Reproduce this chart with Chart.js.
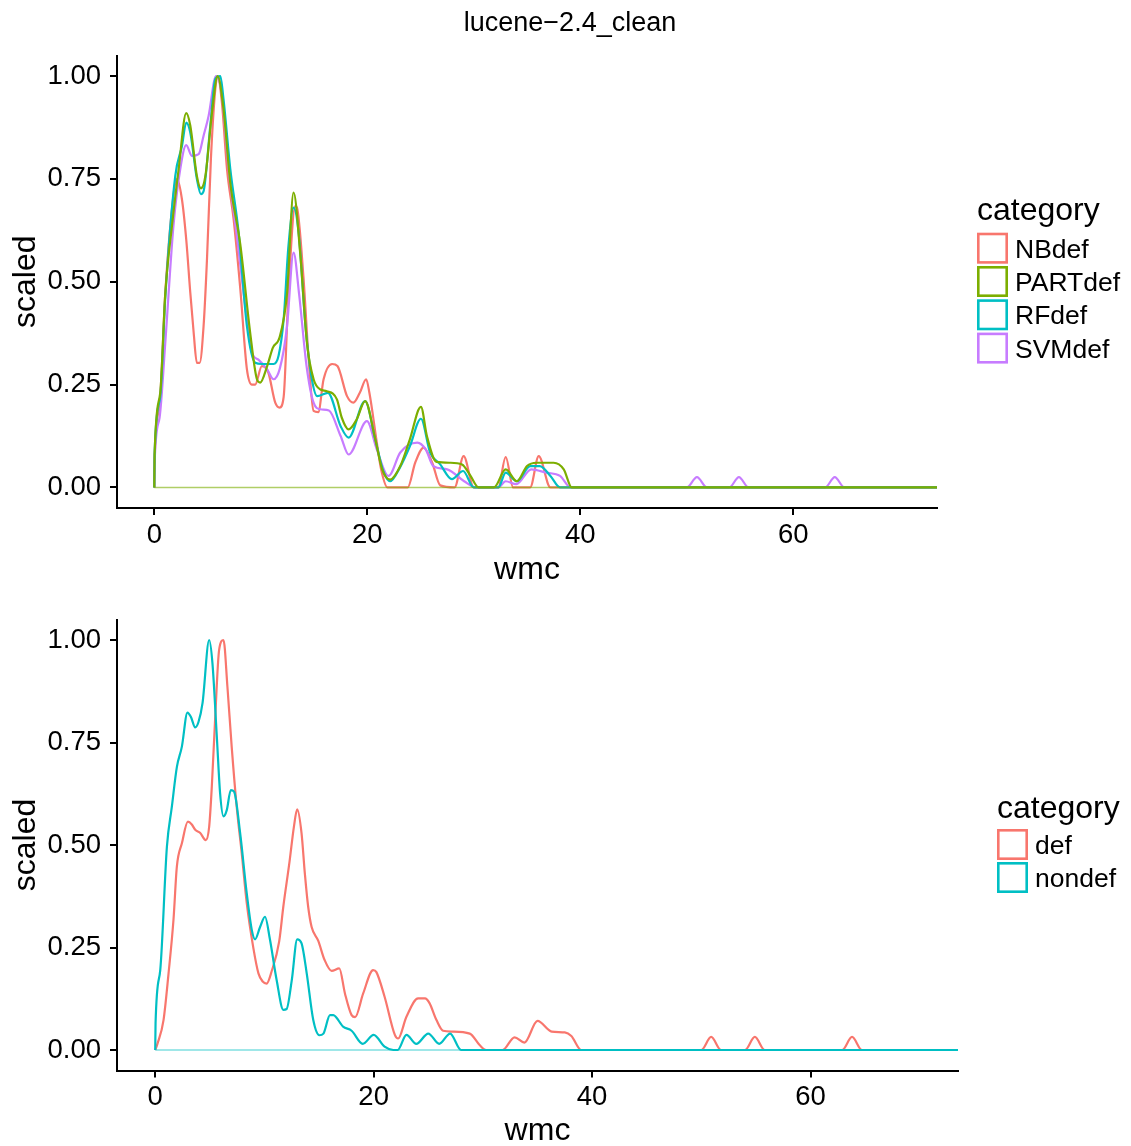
<!DOCTYPE html>
<html>
<head>
<meta charset="utf-8">
<title>lucene-2.4_clean</title>
<script src="https://cdn.jsdelivr.net/npm/chart.js@4.4.1/dist/chart.umd.min.js"></script>
<style>
  html, body { margin: 0; padding: 0; background: #fff; overflow: hidden; }
  #page { position: relative; width: 1131px; height: 1146px; overflow: hidden; }
  #figTitle {
    position: absolute; left: 0; top: 7px; width: 1140px; text-align: center;
    font: 27px "Liberation Sans", Arial, sans-serif; line-height: 30px; color: #000;
  }
  canvas { position: absolute; left: 0; }
  #topChart { top: 0; }
  #bottomChart { top: 590px; }
</style>
</head>
<body>
<div id="page">
  <canvas id="topChart" width="1131" height="590"></canvas>
  <canvas id="bottomChart" width="1131" height="570"></canvas>
  <div id="figTitle">lucene−2.4_clean</div>
</div>
<script>
// Data (scaled density of wmc)
const xTicks = [0, 20, 40, 60];
const yTicks = [0, 0.25, 0.5, 0.75, 1];
const topCategories = ['NBdef', 'PARTdef', 'RFdef', 'SVMdef'];
const bottomCategories = ['def', 'nondef'];

const nbX = [0, 0.03, 0.5, 1.03, 1.66, 2.13, 2.6, 3.0, 3.38, 3.7, 4.0, 4.26, 4.63, 4.95, 5.32, 5.73, 5.95, 6.35, 6.83, 7.45, 8.08, 8.7, 9.17, 9.48, 10.1, 10.7, 11.36, 11.77, 12.15, 12.6, 13.24, 13.4, 14.0, 14.5, 14.96, 15.4, 15.9, 16.7, 17.2, 18.1, 18.7, 19.3, 19.9, 20.2, 20.9, 21.3, 21.9, 23.8, 24.5, 25.3, 26.1, 26.85, 28.2, 29.05, 30.0, 32.3, 33.0, 33.7, 35.3, 36.1, 37.2, 73.5];
const nbY = [0, 0.07, 0.2, 0.47, 0.676, 0.75, 0.70, 0.603, 0.474, 0.376, 0.303, 0.303, 0.392, 0.555, 0.80, 0.968, 1.0, 0.936, 0.774, 0.652, 0.482, 0.287, 0.25, 0.25, 0.295, 0.28, 0.206, 0.194, 0.22, 0.474, 0.684, 0.68, 0.514, 0.311, 0.186, 0.183, 0.263, 0.30, 0.295, 0.222, 0.206, 0.23, 0.263, 0.23, 0.109, 0.044, 0, 0, 0.06, 0.097, 0.06, 0.005, 0, 0.076, 0, 0, 0.074, 0, 0, 0.076, 0, 0];

const partX = [0, 0.03, 0.56, 1.03, 1.66, 2.29, 3.0, 3.38, 4.0, 4.38, 4.8, 5.42, 5.95, 6.5, 7.14, 8.08, 9.0, 9.64, 9.95, 10.6, 11.14, 11.77, 12.46, 13.08, 13.7, 14.34, 14.96, 15.6, 16.2, 17.15, 17.6, 18.25, 19.0, 19.8, 20.75, 21.4, 22.15, 23.1, 24.0, 25.04, 25.6, 26.5, 27.8, 28.9, 29.7, 30.45, 31.9, 33.0, 34.05, 35.0, 35.9, 37.5, 38.45, 39.2, 73.5];
const partY = [0, 0.08, 0.23, 0.47, 0.636, 0.774, 0.91, 0.88, 0.757, 0.727, 0.757, 0.911, 1.0, 0.92, 0.74, 0.59, 0.377, 0.263, 0.255, 0.295, 0.34, 0.365, 0.47, 0.717, 0.57, 0.35, 0.263, 0.238, 0.234, 0.214, 0.17, 0.141, 0.165, 0.21, 0.117, 0.044, 0.019, 0.052, 0.117, 0.196, 0.125, 0.062, 0.06, 0.056, 0.028, 0, 0, 0.044, 0.015, 0.052, 0.06, 0.06, 0.044, 0, 0];

const rfX = [0, 0.03, 0.56, 1.03, 1.97, 2.6, 3.0, 3.38, 4.0, 4.38, 4.63, 5.26, 5.73, 6.2, 6.5, 7.14, 7.92, 8.7, 9.48, 10.1, 11.2, 11.67, 12.15, 12.6, 13.08, 13.55, 14.2, 14.8, 15.3, 16.3, 17.5, 18.25, 19.8, 20.75, 21.5, 22.15, 23.1, 24.0, 25.04, 25.9, 26.85, 27.95, 29.0, 30.0, 32.3, 33.0, 34.05, 35.3, 36.2, 37.2, 38.1, 73.5];
const rfY = [0, 0.08, 0.22, 0.46, 0.757, 0.83, 0.887, 0.863, 0.75, 0.713, 0.72, 0.879, 0.993, 1.0, 0.944, 0.774, 0.62, 0.392, 0.303, 0.3, 0.3, 0.32, 0.409, 0.587, 0.68, 0.62, 0.392, 0.263, 0.222, 0.23, 0.149, 0.121, 0.21, 0.117, 0.04, 0.015, 0.05, 0.1, 0.167, 0.085, 0.056, 0.02, 0.04, 0, 0, 0.036, 0.015, 0.052, 0.052, 0.028, 0, 0];

const svmX = [0, 0.03, 0.5, 1.03, 1.8, 2.44, 3.0, 3.54, 4.17, 4.63, 5.1, 5.8, 6.35, 6.98, 7.76, 8.54, 9.17, 9.8, 10.6, 11.2, 11.8, 12.46, 13.08, 13.6, 14.3, 14.96, 15.6, 16.4, 17.5, 18.25, 19.97, 20.9, 22.0, 23.1, 24.7, 25.5, 26.2, 27.5, 29.1, 30.2, 32.3, 33.0, 34.0, 35.4, 36.8, 38.1, 39.1, 50.0, 50.96, 51.9, 54.0, 54.9, 55.8, 63.0, 63.9, 64.8, 73.5];
const svmY = [0, 0.06, 0.17, 0.35, 0.636, 0.774, 0.832, 0.806, 0.81, 0.855, 0.903, 1.0, 0.955, 0.774, 0.61, 0.441, 0.328, 0.31, 0.287, 0.263, 0.29, 0.39, 0.571, 0.47, 0.295, 0.206, 0.19, 0.187, 0.125, 0.08, 0.161, 0.092, 0.028, 0.085, 0.109, 0.092, 0.052, 0.044, 0.015, 0, 0, 0.015, 0.008, 0.044, 0.036, 0.028, 0, 0, 0.025, 0, 0, 0.025, 0, 0, 0.025, 0, 0];

const defX = [0, 0.2, 0.76, 1.22, 1.67, 1.98, 2.44, 2.99, 3.35, 3.66, 4.1, 4.63, 4.94, 5.18, 5.48, 5.85, 6.25, 6.61, 7.0, 7.46, 7.92, 8.38, 8.99, 9.45, 9.84, 10.2, 10.66, 11.35, 11.73, 12.3, 12.7, 13.0, 13.4, 13.7, 14.0, 14.32, 14.93, 15.5, 16.15, 16.85, 17.37, 17.98, 18.3, 19.04, 19.95, 20.25, 21.0, 21.94, 22.24, 23.0, 24.07, 24.7, 25.1, 25.75, 26.35, 27.2, 28.8, 29.7, 30.3, 31.8, 32.9, 33.8, 35.0, 36.3, 37.5, 38.1, 39.0, 50.0, 50.9, 51.8, 54.0, 54.9, 55.8, 62.9, 63.8, 64.7, 73.5];
const defY = [0, 0.015, 0.073, 0.187, 0.317, 0.447, 0.504, 0.557, 0.55, 0.537, 0.53, 0.512, 0.545, 0.642, 0.805, 0.976, 1.0, 0.886, 0.74, 0.593, 0.48, 0.358, 0.248, 0.187, 0.167, 0.162, 0.192, 0.265, 0.35, 0.46, 0.545, 0.587, 0.528, 0.43, 0.35, 0.3, 0.266, 0.22, 0.193, 0.199, 0.138, 0.085, 0.08, 0.138, 0.195, 0.19, 0.13, 0.037, 0.028, 0.081, 0.126, 0.126, 0.115, 0.073, 0.047, 0.045, 0.04, 0.012, 0, 0, 0.031, 0.018, 0.071, 0.045, 0.043, 0.034, 0, 0, 0.032, 0, 0, 0.032, 0, 0, 0.032, 0, 0];

const nondefX = [0, 0.03, 0.46, 1.07, 1.52, 1.98, 2.44, 2.95, 3.26, 3.66, 3.96, 4.33, 4.94, 5.24, 5.64, 5.94, 6.25, 6.55, 6.92, 7.22, 7.77, 8.38, 8.84, 9.14, 9.6, 10.05, 10.5, 11.12, 11.73, 12.03, 12.5, 13.0, 13.4, 13.87, 14.47, 15.02, 15.4, 16.0, 16.3, 17.2, 17.98, 19.0, 20.0, 21.0, 21.8, 22.2, 23.0, 23.9, 25.0, 26.0, 27.0, 28.0, 73.5];
const nondefY = [0, 0.065, 0.195, 0.496, 0.593, 0.69, 0.74, 0.823, 0.813, 0.787, 0.8, 0.846, 1.0, 0.943, 0.764, 0.626, 0.57, 0.585, 0.634, 0.63, 0.53, 0.382, 0.293, 0.27, 0.3, 0.325, 0.27, 0.17, 0.098, 0.1, 0.17, 0.27, 0.26, 0.187, 0.073, 0.036, 0.04, 0.085, 0.085, 0.057, 0.047, 0.015, 0.037, 0.008, 0, 0, 0.037, 0.015, 0.04, 0.015, 0.04, 0, 0];

// closing edge of the density outlines at scaled = 0
const baseX = [0, 73.5];
const baseY = [0, 0];

const FONT = '"Liberation Sans", Arial, Helvetica, sans-serif';
Chart.defaults.font.family = FONT;
Chart.defaults.color = '#000';

function toPoints(xs, ys) {
  return xs.map((x, i) => ({ x: x, y: ys[i] }));
}

function curve(label, xs, ys, color, order) {
  return {
    label: label,
    data: toPoints(xs, ys),
    borderColor: color,
    backgroundColor: color,
    borderWidth: 2.2,
    pointRadius: 0,
    fill: false,
    cubicInterpolationMode: 'monotone',
    order: order
  };
}

function baseline(color) {
  return {
    label: '',
    data: toPoints(baseX, baseY),
    borderColor: color,
    borderWidth: 1.5,
    pointRadius: 0,
    fill: false,
    order: 0
  };
}

// ggplot style legend: title, outlined keys, labels
const ggLegend = {
  id: 'ggLegend',
  afterDraw(chart, args, opts) {
    const ctx = chart.ctx;
    ctx.save();
    ctx.textAlign = 'left';
    ctx.textBaseline = 'alphabetic';
    ctx.fillStyle = '#000';
    ctx.font = '32px ' + FONT;
    ctx.fillText(opts.title, opts.x, opts.titleY);
    ctx.font = '26.5px ' + FONT;
    let y = opts.top;
    chart.data.datasets.filter(ds => ds.label).forEach(ds => {
      ctx.fillStyle = '#fff';
      ctx.fillRect(opts.x, y, opts.box, opts.box);
      ctx.strokeStyle = ds.borderColor;
      ctx.lineWidth = 2.6;
      ctx.strokeRect(opts.x + 1.3, y + 1.3, opts.box - 2.6, opts.box - 2.6);
      ctx.fillStyle = '#000';
      ctx.fillText(ds.label, opts.x + opts.textGap, y + opts.box / 2 + 9.5);
      y += opts.pitch;
    });
    ctx.restore();
  }
};

function axisScales(xHeight, xTitlePad) {
  const common = {
    type: 'linear',
    border: { display: true, color: '#000', width: 2 },
    grid: { display: true, drawOnChartArea: false, drawTicks: true, tickLength: 7, tickColor: '#000', lineWidth: 2 }
  };
  return {
    x: Object.assign({}, common, {
      min: -3.5,
      max: 73.5,
      afterBuildTicks: axis => { axis.ticks = xTicks.map(v => ({ value: v })); },
      afterFit: axis => { axis.height = xHeight; },
      ticks: { font: { size: 27.5 }, color: '#000', padding: 3.5, maxRotation: 0, callback: v => String(v) },
      title: { display: true, text: 'wmc', font: { size: 32 }, color: '#000', padding: { top: 0, bottom: xTitlePad } }
    }),
    y: Object.assign({}, common, {
      min: -0.05,
      max: 1.05,
      afterBuildTicks: axis => { axis.ticks = yTicks.map(v => ({ value: v })); },
      afterFit: axis => { axis.width = 117; },
      ticks: { font: { size: 27.5 }, color: '#000', padding: 9, callback: v => v.toFixed(2) },
      title: { display: true, text: 'scaled', font: { size: 32 }, color: '#000', padding: { top: 6.8, bottom: 0 } }
    })
  };
}

// Top panel: classifiers
new Chart(document.getElementById('topChart'), {
  type: 'line',
  data: {
    datasets: [
      curve(topCategories[0], nbX, nbY, '#F8766D', 4),
      curve(topCategories[1], partX, partY, '#7CAE00', 1),
      curve(topCategories[2], rfX, rfY, '#00BFC4', 2),
      curve(topCategories[3], svmX, svmY, '#C77CFF', 3),
      baseline('rgba(124,174,0,0.6)')
    ]
  },
  options: {
    responsive: false,
    animation: false,
    layout: { padding: { top: 55.5, right: 194, left: 0, bottom: 0 } },
    scales: axisScales(82, 0.8),
    plugins: {
      legend: { display: false },
      tooltip: { enabled: false },
      ggLegend: { title: 'category', x: 977, titleY: 220, top: 232.7, box: 31, pitch: 33.3, textGap: 38 }
    }
  },
  plugins: [ggLegend]
});

// Bottom panel: def vs nondef
new Chart(document.getElementById('bottomChart'), {
  type: 'line',
  data: {
    datasets: [
      curve(bottomCategories[0], defX, defY, '#F8766D', 2),
      curve(bottomCategories[1], nondefX, nondefY, '#00BFC4', 1),
      baseline('rgba(0,191,196,0.5)')
    ]
  },
  options: {
    responsive: false,
    animation: false,
    layout: { padding: { top: 29.5, right: 173, left: 0, bottom: 0 } },
    scales: axisScales(89.5, 9.8),
    plugins: {
      legend: { display: false },
      tooltip: { enabled: false },
      ggLegend: { title: 'category', x: 997, titleY: 228.3, top: 239, box: 31, pitch: 33, textGap: 38 }
    }
  },
  plugins: [ggLegend]
});
</script>
</body>
</html>
